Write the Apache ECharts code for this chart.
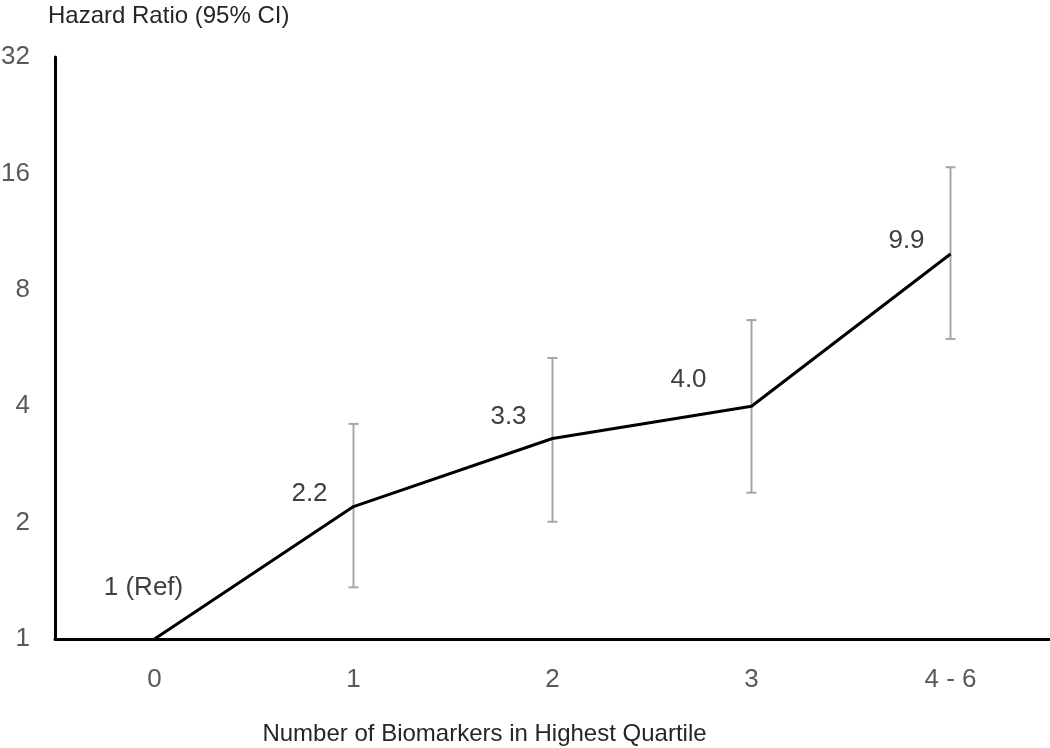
<!DOCTYPE html>
<html>
<head>
<meta charset="utf-8">
<script src="https://cdn.jsdelivr.net/npm/echarts@6/dist/echarts.min.js"></script>
<style>
  html, body { margin: 0; padding: 0; background: #fff; }
  #main { width: 1050px; height: 748px; }
</style>
</head>
<body>
<div id="main"></div>
<script>
// categories and hazard ratios
var categories = ['0', '1', '2', '3', '4 - 6'];
var hazardRatio = [1, 2.2, 3.3, 4.0, 9.9];
var labelText = ['1 (Ref)', '2.2', '3.3', '4.0', '9.9'];
// 95% CI (none for the reference group)
var ciLower = [null, 1.36, 2.01, 2.39, 5.97];
var ciUpper = [null, 3.60, 5.33, 6.68, 16.6];
var yTicks = [1, 2, 4, 8, 16, 32];

var chart = echarts.init(document.getElementById('main'));

// label placement relative to each point
var labelOffsets = [[-11, -51], [-44, -13], [-44, -22], [-63, -26], [-44, -13]];

var lineData = hazardRatio.map(function (v, i) {
  return {
    value: v,
    label: {
      show: true,
      formatter: labelText[i],
      position: 'inside',
      offset: labelOffsets[i]
    }
  };
});

var ciData = [];
for (var i = 0; i < categories.length; i++) {
  if (ciLower[i] != null) ciData.push([i, ciLower[i], ciUpper[i]]);
}

var option = {
  backgroundColor: '#ffffff',
  animation: false,
  textStyle: { fontFamily: 'Liberation Sans, Arial, sans-serif' },
  grid: { left: 55, right: 0, top: 57, bottom: 109, outerBoundsMode: 'none', containLabel: false },
  xAxis: {
    type: 'category',
    data: categories,
    boundaryGap: true,
    name: 'Number of Biomarkers in Highest Quartile',
    nameLocation: 'middle',
    nameGap: 83,
    nameTextStyle: { fontSize: 24, color: '#262626', padding: [0, 136, 0, 0] },
    axisLine: { lineStyle: { color: '#000', width: 3 } },
    axisTick: { show: false },
    axisLabel: { fontSize: 26, color: '#595959', margin: 28 },
    splitLine: { show: false }
  },
  yAxis: {
    type: 'log',
    logBase: 2,
    min: 1,
    max: 32,
    name: 'Hazard Ratio (95% CI)',
    nameLocation: 'end',
    nameGap: 29,
    nameTextStyle: { fontSize: 24, color: '#262626', align: 'left', padding: [0, 0, 0, -7] },
    axisLine: { show: true, lineStyle: { color: '#000', width: 3 } },
    axisTick: { show: false },
    axisLabel: {
      fontSize: 26, color: '#595959', margin: 25,
      formatter: function (v) {
        var r = Math.round(v);
        return yTicks.indexOf(r) >= 0 ? String(r) : '';
      }
    },
    splitLine: { show: false }
  },
  series: [
    {
      type: 'custom',
      name: 'CI',
      z: 1,
      data: ciData,
      renderItem: function (params, api) {
        var x = api.value(0);
        var lo = api.coord([x, api.value(1)]);
        var hi = api.coord([x, api.value(2)]);
        var cap = 5;
        var style = { stroke: '#a6a6a6', lineWidth: 2 };
        return {
          type: 'group',
          children: [
            { type: 'line', shape: { x1: lo[0], y1: lo[1], x2: hi[0], y2: hi[1] }, style: style },
            { type: 'line', shape: { x1: lo[0] - cap, y1: lo[1], x2: lo[0] + cap, y2: lo[1] }, style: style },
            { type: 'line', shape: { x1: hi[0] - cap, y1: hi[1], x2: hi[0] + cap, y2: hi[1] }, style: style }
          ]
        };
      }
    },
    {
      type: 'line',
      name: 'HR',
      z: 3,
      data: lineData,
      symbol: 'circle',
      symbolSize: 1,
      showSymbol: true,
      itemStyle: { color: '#000' },
      lineStyle: { color: '#000', width: 3 },
      label: { fontSize: 26, color: '#404040' }
    }
  ]
};

chart.setOption(option);
</script>
</body>
</html>
